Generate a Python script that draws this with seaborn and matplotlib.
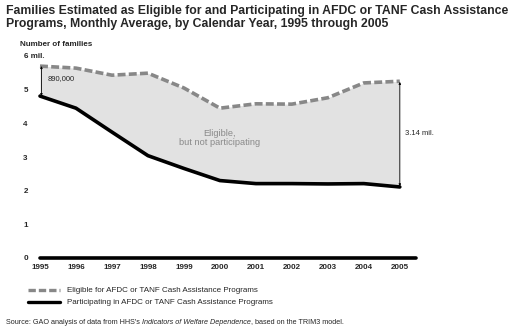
import matplotlib
matplotlib.use("Agg")
import matplotlib.pyplot as plt
import seaborn as sns
import pandas as pd

years = [1995, 1996, 1997, 1998, 1999, 2000, 2001, 2002, 2003, 2004, 2005]
eligible = [5.70, 5.64, 5.43, 5.49, 5.05, 4.45, 4.58, 4.57, 4.76, 5.20, 5.25]
participating = [4.81, 4.45, 3.74, 3.04, 2.66, 2.30, 2.21, 2.21, 2.20, 2.21, 2.11]
y_ticks = [0, 1, 2, 3, 4, 5, 6]
y_tick_labels = ["0", "1", "2", "3", "4", "5", "6 mil."]
eligible_label = "Eligible for AFDC or TANF Cash Assistance Programs"
participating_label = "Participating in AFDC or TANF Cash Assistance Programs"

df = pd.DataFrame({"year": years, "eligible": eligible, "participating": participating})

sns.set_style("white")
plt.rcParams["font.family"] = ["Liberation Sans", "DejaVu Sans"]

W, H = 509, 331
fig = plt.figure(figsize=(W / 100, H / 100), dpi=100)
ax = fig.add_axes([40 / W, 1 - 258 / H, (416 - 40) / W, (258 - 56) / H])

ax.fill_between(df["year"], df["participating"], df["eligible"], color="#e2e2e2", lw=0, zorder=1)
sns.lineplot(data=df, x="year", y="eligible", ax=ax, color="#888888", lw=2.6,
             linestyle=(0, (2.2, 0.9)), zorder=3, clip_on=False)
sns.lineplot(data=df, x="year", y="participating", ax=ax, color="black", lw=2.6,
             zorder=3, clip_on=False)

ax.set_xlim(1995, 2005.45)
ax.set_ylim(0, 6)
for s in ax.spines.values():
    s.set_visible(False)
ax.axhline(0, color="black", lw=2.6, zorder=4, clip_on=False)

ax.set_xticks(years)
ax.set_xticklabels([str(y) for y in years], fontsize=5.8, fontweight="bold")
ax.set_yticks(y_ticks[:-1])
ax.set_yticklabels(y_tick_labels[:-1], fontsize=5.8, fontweight="bold")
ax.tick_params(axis="both", length=0, pad=4)
ax.tick_params(axis="y", pad=12)
for lbl in ax.get_yticklabels():
    lbl.set_horizontalalignment("left")
ax.set_xlabel("")
ax.set_ylabel("")

# Top tick label and axis title
fig.text(24 / W, 1 - 57 / H, y_tick_labels[-1], fontsize=5.8, fontweight="bold", va="center")
fig.text(20 / W, 1 - 45 / H, "Number of families", fontsize=5.8, fontweight="bold", va="center")

# Title
fig.text(6 / W, 1 - 5 / H,
         "Families Estimated as Eligible for and Participating in AFDC or TANF Cash Assistance\n"
         "Programs, Monthly Average, by Calendar Year, 1995 through 2005",
         fontsize=8.8, fontweight="bold", va="top", linespacing=1.15)

# Gap annotations
gap_start = eligible[0] - participating[0]
gap_end = eligible[-1] - participating[-1]
arrow = dict(arrowstyle="<|-|>", color="black", lw=0.6, mutation_scale=3, shrinkA=0, shrinkB=0)
ax.annotate("", xy=(years[0] + 0.04, participating[0]), xytext=(years[0] + 0.04, eligible[0]),
            arrowprops=arrow, zorder=5)
ax.text(years[0] + 0.2, (eligible[0] + participating[0]) / 2 + 0.07,
        f"{gap_start * 1e6:,.0f}", fontsize=5.5, va="center")
ax.annotate("", xy=(years[-1], participating[-1] + 0.02), xytext=(years[-1], eligible[-1] - 0.02),
            arrowprops=arrow, zorder=5)
ax.text(years[-1] + 0.15, 3.71, f"{gap_end:.2f} mil.", fontsize=5.5, va="center")

ax.text(2000.0, 3.56, "Eligible,\nbut not participating", fontsize=6.7, color="#8a8a8a",
        ha="center", va="center", linespacing=1.1)

# Legend drawn as line samples with labels
lx0, lx1, tx = 28 / W, 60 / W, 67 / W
for ypix, color, style, label in [(290, "#888888", (0, (2.2, 0.9)), eligible_label),
                                  (302, "black", "-", participating_label)]:
    yy = 1 - ypix / H
    fig.add_artist(plt.Line2D([lx0, lx1], [yy, yy], color=color, lw=2.4, linestyle=style,
                              transform=fig.transFigure))
    fig.text(tx, yy, label, fontsize=5.8, va="center")

# Source line with italic report title
renderer = fig.canvas.get_renderer()
x = 6 / W
ys = 1 - 322 / H
for piece, style in [("Source: GAO analysis of data from HHS's ", "normal"),
                     ("Indicators of Welfare Dependence", "italic"),
                     (", based on the TRIM3 model.", "normal")]:
    t = fig.text(x, ys, piece, fontsize=5.2, va="center", style=style)
    bb = t.get_window_extent(renderer=renderer)
    x += bb.width / W

fig.savefig("out.png", dpi=100)
